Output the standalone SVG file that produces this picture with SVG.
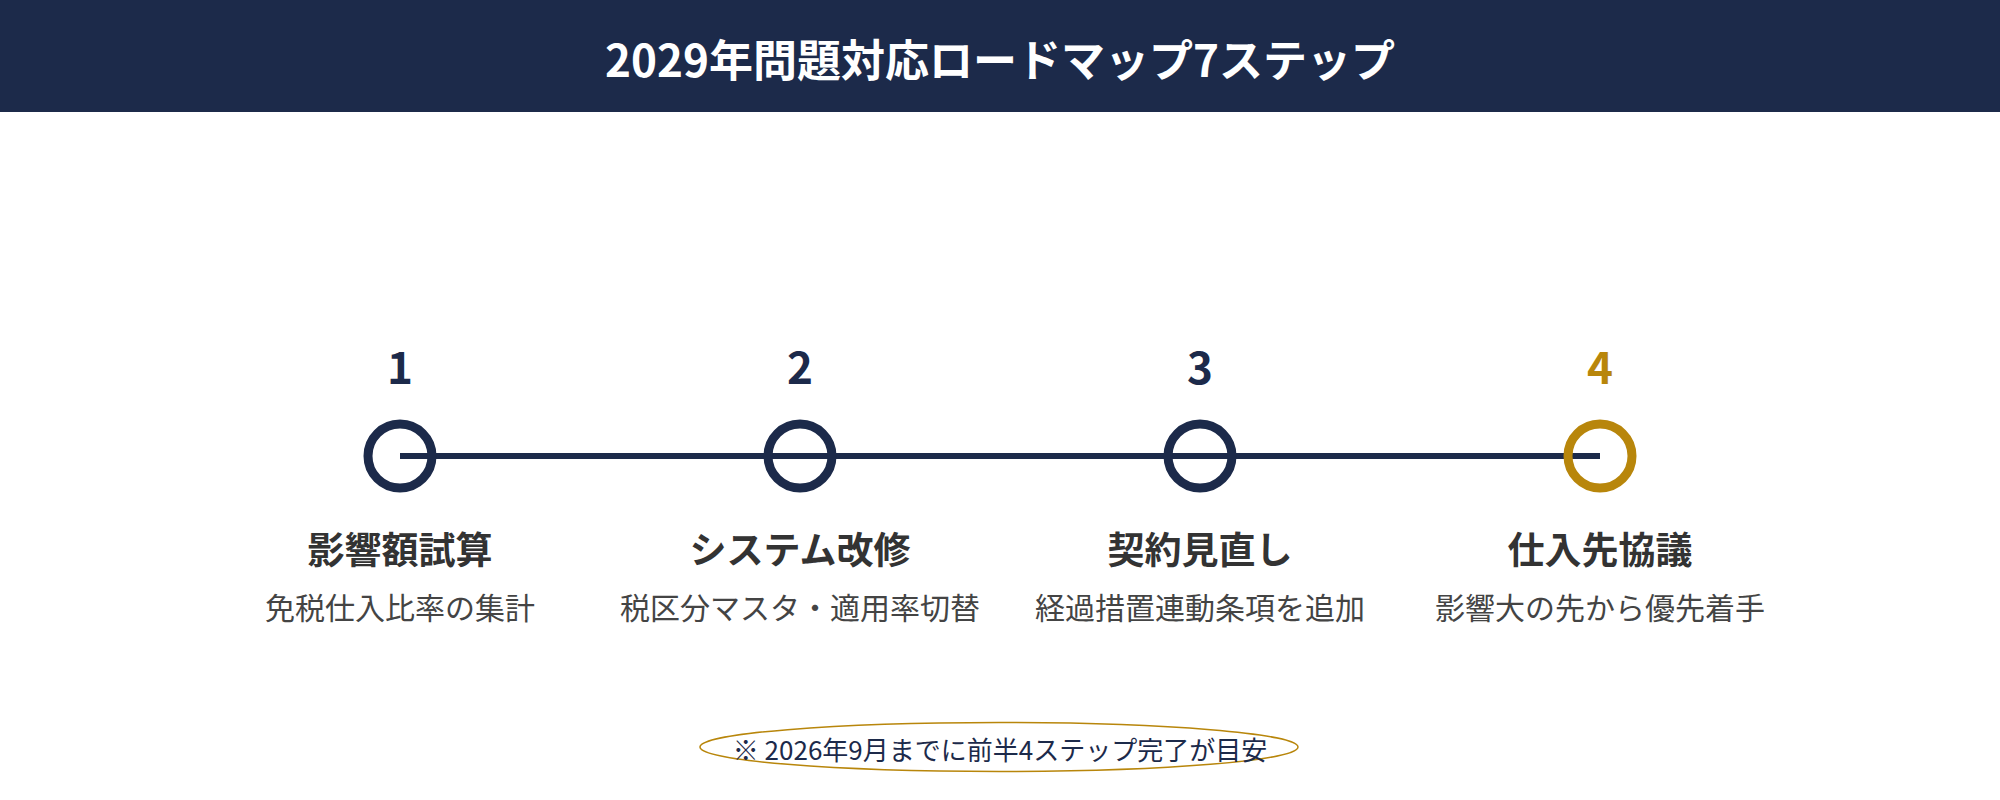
<svg xmlns="http://www.w3.org/2000/svg" width="2000" height="800" viewBox="0 0 2000 800">
<style>
text{font-family:"Noto Sans CJK JP","Noto Sans",sans-serif;text-anchor:middle}
.hdr{font-size:44px;font-weight:700;fill:#ffffff}
.num{font-size:44px;font-weight:700;fill:#1c2a4a}
.num.gold{fill:#b8860b}
.ttl{font-size:37px;font-weight:700;fill:#333333}
.sub{font-size:30px;font-weight:400;fill:#444444}
.ring{fill:none;stroke:#1c2a4a;stroke-width:9}
.ring.gold{stroke:#b8860b}
.note{font-size:26px;font-weight:400;fill:#1c2a4a}
</style>
<rect width="2000" height="800" fill="#ffffff"/>
<g id="header">
<rect x="0" y="0" width="2000" height="112" fill="#1c2a4a"/>
<text class="hdr" x="1000" y="77">2029年問題対応ロードマップ7ステップ</text>
</g>
<g id="connectors">
<line x1="400" y1="456" x2="1600" y2="456" stroke="#1c2a4a" stroke-width="6"/>
</g>
<g id="step1">
<text class="num" x="400" y="384">1</text>
<circle class="ring" cx="400" cy="456" r="32"/>
<text class="ttl" x="400" y="564">影響額試算</text>
<text class="sub" x="400" y="619">免税仕入比率の集計</text>
</g>
<g id="step2">
<text class="num" x="800" y="384">2</text>
<circle class="ring" cx="800" cy="456" r="32"/>
<text class="ttl" x="800" y="564">システム改修</text>
<text class="sub" x="800" y="619">税区分マスタ・適用率切替</text>
</g>
<g id="step3">
<text class="num" x="1200" y="384">3</text>
<circle class="ring" cx="1200" cy="456" r="32"/>
<text class="ttl" x="1200" y="564">契約見直し</text>
<text class="sub" x="1200" y="619">経過措置連動条項を追加</text>
</g>
<g id="step4">
<text class="num gold" x="1600" y="384">4</text>
<circle class="ring gold" cx="1600" cy="456" r="32"/>
<text class="ttl" x="1600" y="564">仕入先協議</text>
<text class="sub" x="1600" y="619">影響大の先から優先着手</text>
</g>
<g id="note">
<ellipse cx="999" cy="747" rx="299" ry="24.5" fill="none" stroke="#b8860b" stroke-width="1.5"/>
<text class="note" x="1000" y="760">※ 2026年9月までに前半4ステップ完了が目安</text>
</g>
</svg>
